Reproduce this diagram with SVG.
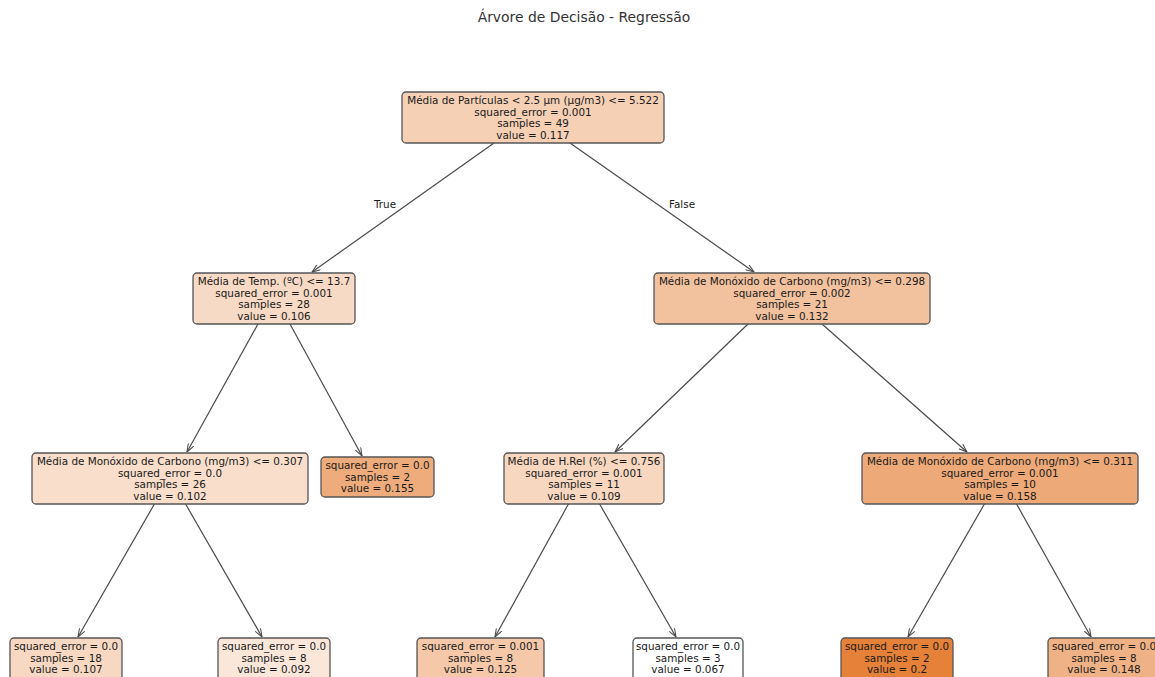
<svg xmlns="http://www.w3.org/2000/svg" width="1155" height="677" viewBox="0 0 1155 677">
<style>
  text { font-family: "DejaVu Sans", Verdana, sans-serif; font-size: 10.4px; fill: #1a1a1a; text-anchor: middle; }
  .title { font-size: 13.9px; fill: #333; }
  .box { stroke: #555; stroke-width: 1.3; }
  .edge { stroke: #4a4a4a; stroke-width: 1.2; fill: none; marker-end: url(#arr); }
</style>
<defs>
  <marker id="arr" viewBox="0 0 10 8" refX="9.5" refY="4" markerWidth="9" markerHeight="7" orient="auto" markerUnits="userSpaceOnUse">
    <path d="M0,0.5 L9.5,4 L0,7.5" fill="none" stroke="#4a4a4a" stroke-width="1.2"/>
  </marker>
</defs>
<rect width="1155" height="677" fill="#fff"/>
<text class="title" x="584" y="22">Árvore de Decisão - Regressão</text>

<g id="connectors">
  <line class="edge" x1="494" y1="143" x2="312" y2="272"/>
  <line class="edge" x1="570" y1="143" x2="754" y2="272"/>
  <line class="edge" x1="258" y1="324" x2="187" y2="452"/>
  <line class="edge" x1="290" y1="324" x2="362" y2="456"/>
  <line class="edge" x1="748" y1="324" x2="615" y2="452"/>
  <line class="edge" x1="822" y1="324" x2="967" y2="452"/>
  <line class="edge" x1="155" y1="503" x2="78" y2="637"/>
  <line class="edge" x1="185" y1="503" x2="262" y2="637"/>
  <line class="edge" x1="569" y1="503" x2="495" y2="637"/>
  <line class="edge" x1="599" y1="503" x2="676" y2="637"/>
  <line class="edge" x1="985" y1="503" x2="908" y2="637"/>
  <line class="edge" x1="1016" y1="503" x2="1091" y2="637"/>
  <text x="385" y="208">True</text>
  <text x="682" y="208">False</text>
</g>

<g id="n0">
  <rect class="box" x="402" y="92" width="262" height="51" rx="4" fill="#f5d0b5"/>
  <text x="533" y="104">Média de Partículas &lt; 2.5 µm (µg/m3) &lt;= 5.522</text>
  <text x="533" y="115.5">squared_error = 0.001</text>
  <text x="533" y="127">samples = 49</text>
  <text x="533" y="138.5">value = 0.117</text>
</g>
<g id="n1">
  <rect class="box" x="193" y="273" width="162" height="51" rx="4" fill="#f7dac5"/>
  <text x="274" y="285">Média de Temp. (ºC) &lt;= 13.7</text>
  <text x="274" y="296.5">squared_error = 0.001</text>
  <text x="274" y="308">samples = 28</text>
  <text x="274" y="319.5">value = 0.106</text>
</g>
<g id="n2">
  <rect class="box" x="654" y="273" width="276" height="51" rx="4" fill="#f2c19e"/>
  <text x="792" y="285">Média de Monóxido de Carbono (mg/m3) &lt;= 0.298</text>
  <text x="792" y="296.5">squared_error = 0.002</text>
  <text x="792" y="308">samples = 21</text>
  <text x="792" y="319.5">value = 0.132</text>
</g>
<g id="n3">
  <rect class="box" x="32" y="453" width="276" height="51" rx="4" fill="#f8decb"/>
  <text x="170" y="465">Média de Monóxido de Carbono (mg/m3) &lt;= 0.307</text>
  <text x="170" y="476.5">squared_error = 0.0</text>
  <text x="170" y="488">samples = 26</text>
  <text x="170" y="499.5">value = 0.102</text>
</g>
<g id="n4">
  <rect class="box" x="321" y="457" width="113" height="40" rx="4" fill="#eeac7c"/>
  <text x="377.5" y="469">squared_error = 0.0</text>
  <text x="377.5" y="480.5">samples = 2</text>
  <text x="377.5" y="492">value = 0.155</text>
</g>
<g id="n5">
  <rect class="box" x="504" y="453" width="160" height="51" rx="4" fill="#f7d7c0"/>
  <text x="584" y="465">Média de H.Rel (%) &lt;= 0.756</text>
  <text x="584" y="476.5">squared_error = 0.001</text>
  <text x="584" y="488">samples = 11</text>
  <text x="584" y="499.5">value = 0.109</text>
</g>
<g id="n6">
  <rect class="box" x="862" y="453" width="276" height="51" rx="4" fill="#eda978"/>
  <text x="1000" y="465">Média de Monóxido de Carbono (mg/m3) &lt;= 0.311</text>
  <text x="1000" y="476.5">squared_error = 0.001</text>
  <text x="1000" y="488">samples = 10</text>
  <text x="1000" y="499.5">value = 0.158</text>
</g>
<g id="n7">
  <rect class="box" x="10" y="638" width="112" height="42" rx="4" fill="#f7d9c3"/>
  <text x="66" y="650">squared_error = 0.0</text>
  <text x="66" y="661.5">samples = 18</text>
  <text x="66" y="673">value = 0.107</text>
</g>
<g id="n8">
  <rect class="box" x="218" y="638" width="112" height="42" rx="4" fill="#fae7da"/>
  <text x="274" y="650">squared_error = 0.0</text>
  <text x="274" y="661.5">samples = 8</text>
  <text x="274" y="673">value = 0.092</text>
</g>
<g id="n9">
  <rect class="box" x="417" y="638" width="127" height="42" rx="4" fill="#f4c8a9"/>
  <text x="480.5" y="650">squared_error = 0.001</text>
  <text x="480.5" y="661.5">samples = 8</text>
  <text x="480.5" y="673">value = 0.125</text>
</g>
<g id="n10">
  <rect class="box" x="633" y="638" width="110" height="42" rx="4" fill="#ffffff"/>
  <text x="688" y="650">squared_error = 0.0</text>
  <text x="688" y="661.5">samples = 3</text>
  <text x="688" y="673">value = 0.067</text>
</g>
<g id="n11">
  <rect class="box" x="841" y="638" width="112" height="42" rx="4" fill="#e58139"/>
  <text x="897" y="650">squared_error = 0.0</text>
  <text x="897" y="661.5">samples = 2</text>
  <text x="897" y="673">value = 0.2</text>
</g>
<g id="n12">
  <rect class="box" x="1048" y="638" width="112" height="42" rx="4" fill="#efb286"/>
  <text x="1104" y="650">squared_error = 0.0</text>
  <text x="1104" y="661.5">samples = 8</text>
  <text x="1104" y="673">value = 0.148</text>
</g>
</svg>
